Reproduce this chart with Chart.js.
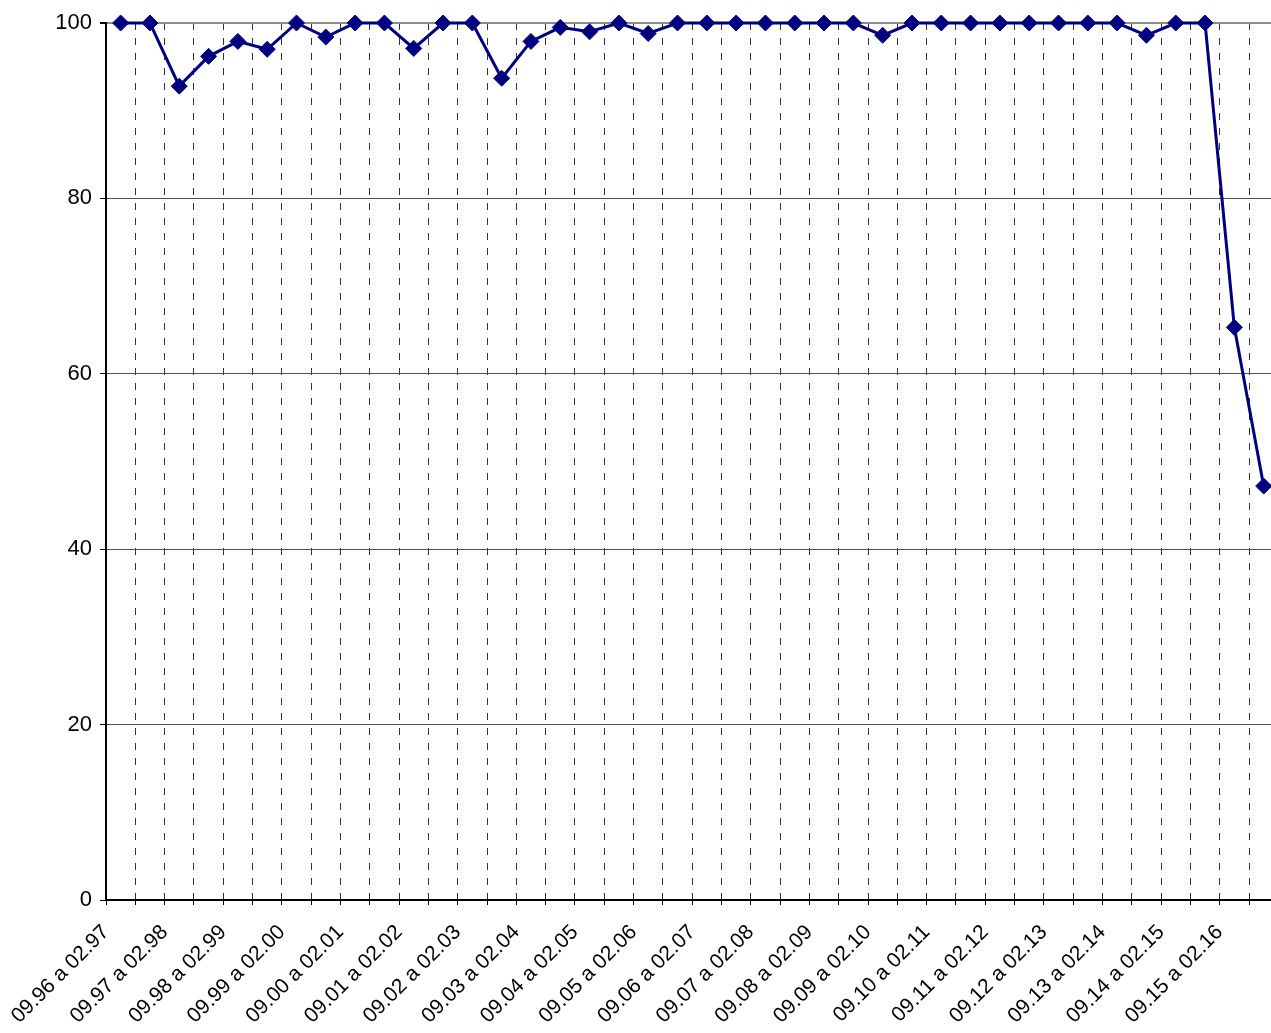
<!DOCTYPE html>
<html>
<head>
<meta charset="utf-8">
<title>Serie</title>
<script src="https://cdn.jsdelivr.net/npm/chart.js@4"></script>
<style>
    html, body { margin: 0; padding: 0; background: #fff; overflow: hidden; }
    canvas { display: block; }
</style>
</head>
<body>
<canvas id="graphic-serie" width="1271" height="1033"></canvas>
<script>
const seasons = ['09.96 a 02.97', '09.97 a 02.98', '09.98 a 02.99', '09.99 a 02.00', '09.00 a 02.01',
    '09.01 a 02.02', '09.02 a 02.03', '09.03 a 02.04', '09.04 a 02.05', '09.05 a 02.06',
    '09.06 a 02.07', '09.07 a 02.08', '09.08 a 02.09', '09.09 a 02.10', '09.10 a 02.11',
    '09.11 a 02.12', '09.12 a 02.13', '09.13 a 02.14', '09.14 a 02.15', '09.15 a 02.16'];

const values = [100, 100, 92.8, 96.2, 97.9, 97.0, 100, 98.4, 100, 100,
    97.1, 100, 100, 93.7, 97.9, 99.5, 99.0, 100, 98.8, 100,
    100, 100, 100, 100, 100, 100, 98.6, 100, 100, 100,
    100, 100, 100, 100, 100, 98.6, 100, 100, 65.3, 47.2];

const yTicks = [0, 20, 40, 60, 80, 100];

function graphicSerie() {
    // two points per season, each in the middle of its own slot
    let dataChart = [];
    values.forEach((v, i) => {
        dataChart.push({ x: i + 0.5, y: v });
    });

    const data = {
        datasets: [{
            data: dataChart,
            borderColor: '#000080',
            backgroundColor: '#000080',
            borderWidth: 3,
            pointStyle: 'rectRot',
            pointRadius: 8,
            pointBorderWidth: 1,
            tension: 0,
            clip: false
        }]
    };

    const family = '"Liberation Sans", Arial, sans-serif';

    const config = {
        type: 'line',
        data: data,
        options: {
            responsive: false,
            animation: false,
            layout: { autoPadding: false, padding: { top: 23, right: 0, bottom: 0, left: 0 } },
            plugins: {
                legend: { display: false },
                tooltip: { enabled: false }
            },
            scales: {
                x: {
                    type: 'linear',
                    min: 0,
                    // the original plot is cut by the right edge of the picture
                    max: values.length - 0.25,
                    afterBuildTicks: axis => {
                        axis.ticks = values.map((v, i) => ({ value: i }));
                    },
                    afterFit: axis => {
                        axis.height = 133;
                        axis.paddingLeft = 0;
                        axis.paddingRight = 0;
                    },
                    grid: {
                        color: '#333',
                        lineWidth: 1,
                        tickColor: '#000',
                        tickBorderDash: [],
                        tickLength: 5
                    },
                    border: { color: '#000', width: 2, dash: [7, 8] },
                    ticks: {
                        autoSkip: false,
                        maxRotation: 45,
                        minRotation: 45,
                        padding: 15,
                        color: '#000',
                        font: { family: family, size: 21 },
                        callback: v => (v % 2 === 0 && seasons[v / 2] !== undefined) ? seasons[v / 2] : ''
                    }
                },
                y: {
                    min: 0,
                    max: 100,
                    afterFit: axis => {
                        axis.width = 106;
                        axis.paddingTop = 0;
                        axis.paddingBottom = 0;
                    },
                    afterBuildTicks: axis => {
                        axis.ticks = yTicks.map(v => ({ value: v }));
                    },
                    grid: {
                        color: c => c.tick && c.tick.value === 100 ? '#8c8c8c' : '#505050',
                        lineWidth: c => c.tick && c.tick.value === 100 ? 2 : 1,
                        tickColor: '#000',
                        tickLength: 6
                    },
                    border: { color: '#000', width: 2 },
                    ticks: {
                        padding: 8,
                        color: '#000',
                        font: { family: family, size: 22 }
                    }
                }
            }
        }
    };

    new Chart(document.getElementById('graphic-serie'), config);
}

graphicSerie();
</script>
</body>
</html>
